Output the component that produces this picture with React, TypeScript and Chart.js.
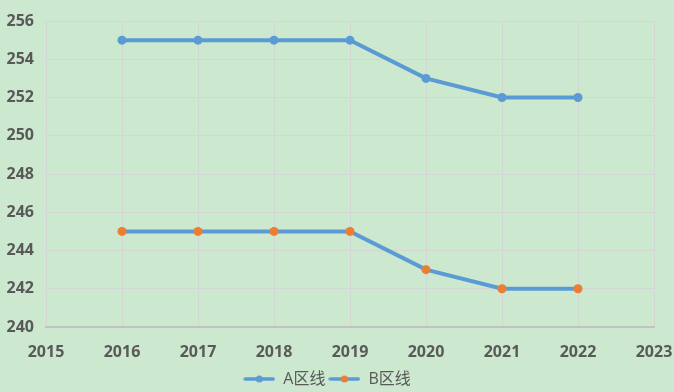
import React, { useEffect, useRef } from "react";
import { Chart, registerables } from "chart.js";

Chart.register(...registerables);

const years = [2016, 2017, 2018, 2019, 2020, 2021, 2022];
const seriesA = [255, 255, 255, 255, 253, 252, 252];
const seriesB = [245, 245, 245, 245, 243, 242, 242];
const seriesNames = ["A区线", "B区线"];
const lineColor = "#5b9bd5";
const markerColors = ["#5b9bd5", "#ed7d31"];

function makeLegendIcon(dot: string): HTMLCanvasElement {
  const c = document.createElement("canvas");
  c.width = 32;
  c.height = 10;
  const ctx = c.getContext("2d")!;
  ctx.strokeStyle = lineColor;
  ctx.lineWidth = 3.5;
  ctx.lineCap = "round";
  ctx.beginPath();
  ctx.moveTo(2, 5);
  ctx.lineTo(30, 5);
  ctx.stroke();
  ctx.fillStyle = dot;
  ctx.beginPath();
  ctx.arc(16, 5, 3.5, 0, Math.PI * 2);
  ctx.fill();
  return c;
}

export default function App() {
  const ref = useRef<HTMLCanvasElement | null>(null);
  useEffect(() => {
    if (!ref.current) return;
    const icons = markerColors.map((c) => makeLegendIcon(c));
    const mk = (vals: number[]) => years.map((y, i) => ({ x: y, y: vals[i] }));
    const tickFont = { family: "'Open Sans', 'Noto Sans CJK SC', sans-serif", size: 16, weight: "bold" as const };
    const chart = new Chart(ref.current, {
      type: "line",
      data: {
        datasets: [seriesA, seriesB].map((vals, i) => ({
          label: seriesNames[i],
          data: mk(vals),
          borderColor: lineColor,
          borderWidth: 4,
          pointRadius: 4.5,
          pointBackgroundColor: markerColors[i],
          pointBorderColor: markerColors[i],
          pointBorderWidth: 0,
          pointStyle: "circle",
          tension: 0,
        })),
      },
      options: {
        animation: false,
        responsive: false,
        layout: { padding: { left: 0, right: 20, top: 21, bottom: -5 } },
        scales: {
          x: {
            type: "linear",
            min: 2015,
            max: 2023,
            ticks: { stepSize: 1, color: "#595959", font: tickFont, padding: 16, callback: (v: any) => String(v) },
            grid: { color: "#d3d6d3", tickLength: 0, drawTicks: false },
            border: { color: "#bfc4bf", width: 2 },
            afterFit: (s: any) => {
              s.height = 41;
              s.paddingRight = 0;
              s.paddingLeft = 0;
            },
          },
          y: {
            min: 240,
            max: 256,
            ticks: { stepSize: 2, color: "#595959", font: tickFont, padding: 12 },
            grid: { color: "#d3d6d3", drawTicks: false, tickLength: 0 },
            border: { display: false },
            afterFit: (s: any) => {
              s.width = 46;
              s.paddingTop = 0;
              s.paddingBottom = 0;
            },
          },
        },
        plugins: {
          tooltip: { enabled: false },
          legend: {
            position: "bottom",
            labels: {
              color: "#595959",
              font: { family: "'Open Sans', 'Noto Sans CJK SC', sans-serif", size: 16 },
              usePointStyle: true,
              pointStyleWidth: 32,
              padding: 3,
              boxHeight: 10,
              generateLabels: () =>
                seriesNames.map((n, i) => ({
                  text: n,
                  pointStyle: icons[i] as any,
                  fillStyle: markerColors[i],
                  strokeStyle: lineColor,
                  lineWidth: 0,
                  datasetIndex: i,
                  hidden: false,
                  fontColor: "#595959",
                })),
            },
          },
        },
      },
    });
    return () => chart.destroy();
  }, []);
  return (
    <div style={{ position: "fixed", left: 0, top: 0, width: 674, height: 392, background: "#cce8cf" }}>
      <canvas ref={ref} width={674} height={392} style={{ width: 674, height: 392, display: "block" }} />
    </div>
  );
}
